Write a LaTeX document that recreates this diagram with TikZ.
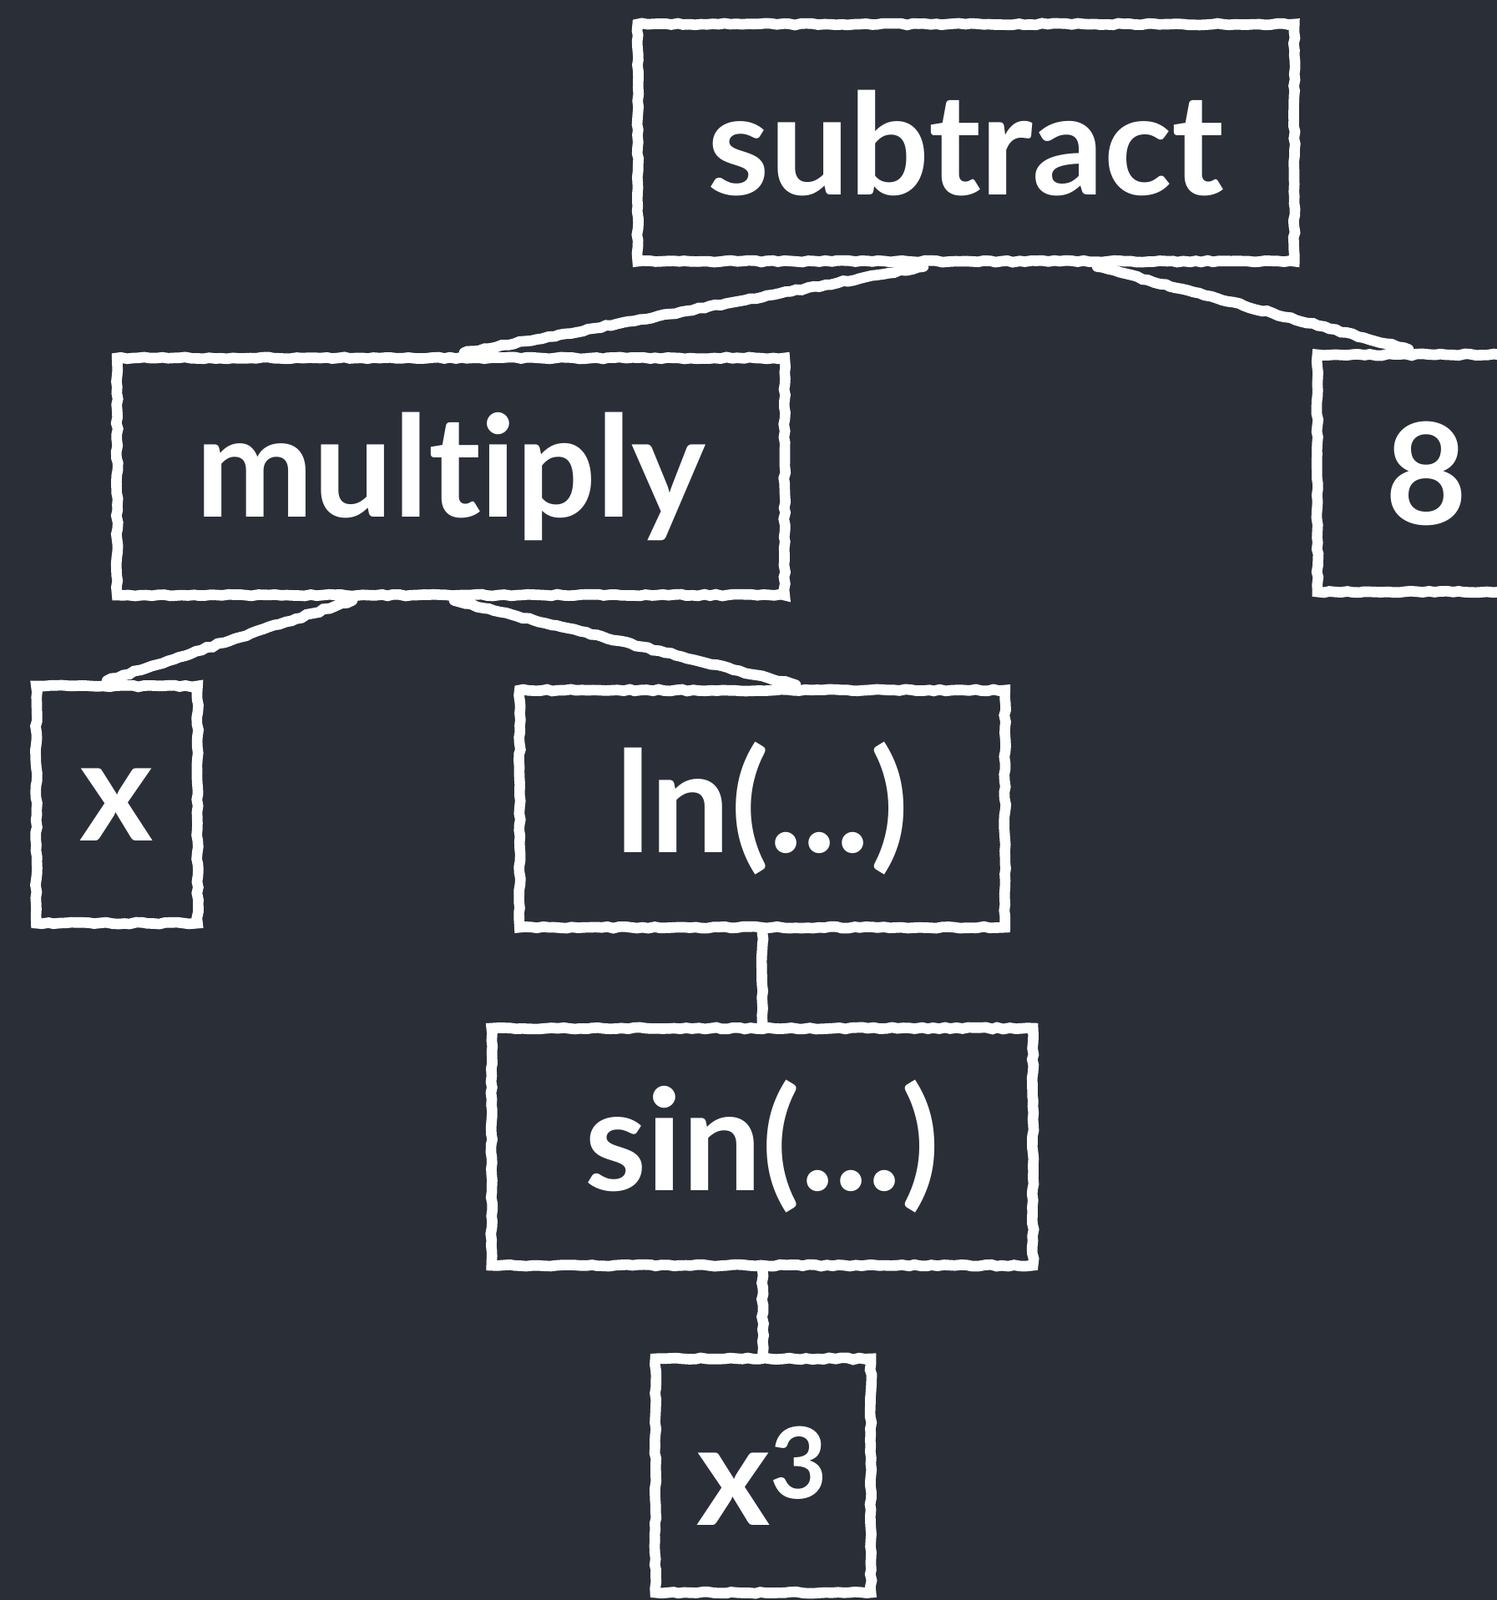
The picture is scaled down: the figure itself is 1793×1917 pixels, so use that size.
\documentclass[tikz,border=0pt]{standalone}
\usepackage{fontspec}
\setmainfont{Lato}[Ligatures=NoCommon]
\usetikzlibrary{
    decorations.pathmorphing,
    positioning
}
\definecolor{board}{HTML}{2A2E37}
\tikzset{
    chalk/.style={draw=white, line width=3.6pt, line cap=round,
        decorate, decoration={random steps, segment length=2pt, amplitude=0.3pt}},
    term/.style={chalk, rectangle, text=white, inner sep=0pt,
        font=\fontsize{48}{56}\selectfont\bfseries, minimum height=2.84cm},
}

\begin{document}
\begin{tikzpicture}[x=0.01cm, y=-0.01cm]
                        \useasboundingbox (0, 0) rectangle (1793, 1917);
                        \clip (0, 0) rectangle (1793, 1917);
                        \fill[board] (0, 0) rectangle (1793, 1917);
                        \node[term, minimum width=7.86cm] (subtract) at (1157, 171) {subtract};
                        \node[term, minimum width=7.99cm] (multiply) at (540, 571) {multiply};
                        \node[term, minimum width=2.6cm] (eight) at (1708, 567) {8};
                        \node[term, minimum width=1.93cm] (x) at (140, 964) {x};
                        \node[term, minimum width=5.81cm] (ln) at (913, 969) {ln(...)};
                        \node[term, minimum width=6.48cm] (sin) at (913, 1374) {sin(...)};
                        \node[term, minimum width=2.58cm, minimum height=2.8cm] (cube) at (914, 1768) {x\textsuperscript{3}};
                        \draw[chalk] ([xshift=-0.51cm]subtract.south) -- ([xshift=0.16cm]multiply.north);
                        \draw[chalk] ([xshift=1.57cm]subtract.south) -- ([xshift=-0.21cm]eight.north);
                        \draw[chalk] ([xshift=-1.18cm]multiply.south) -- ([xshift=-0.12cm]x.north);
                        \draw[chalk] ([xshift=0.04cm]multiply.south) -- ([xshift=0.40cm]ln.north);
                        \draw[chalk] (ln) -- (sin);
                        \draw[chalk] (sin) -- (cube);
                    \end{tikzpicture}
\end{document}
